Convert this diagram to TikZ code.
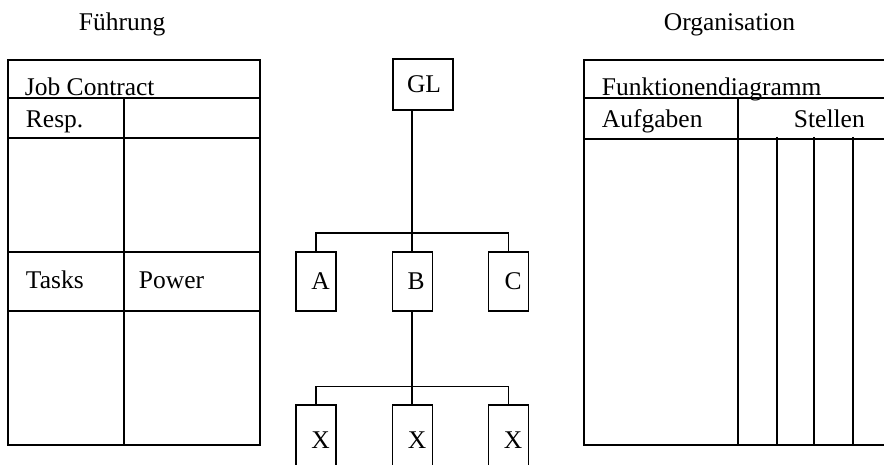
\documentclass[tikz,border=0pt]{standalone}
\usepackage{fontspec}
\setmainfont{Liberation Serif}
\begin{document}
\begin{tikzpicture}[x=1pt,y=-1pt,line width=1.9pt,
  font=\fontsize{25.5}{30}\selectfont,
  heavy/.style={line width=2.8pt},
  lbl/.style={anchor=base west,inner sep=0pt},
  orgbox/.style={draw,line width=1.9pt,minimum width=40pt,minimum height=59pt,inner sep=0pt},
  lowbox/.style={orgbox,minimum height=70pt},
  link/.style={line width=1.9pt}]
\clip (0,0) rectangle (884,465);

% headings
\node[lbl] (fuehrung) at (78,31) {Führung};
\node[lbl] (organisation) at (663,31) {Organisation};

% job contract form
\draw (8,60) rectangle (260,445);
\draw[heavy] (8,98) -- (260,98);
\draw[heavy] (8,138) -- (260,138);
\draw (8,252) -- (260,252);
\draw (8,311) -- (260,311);
\draw (124,98) -- (124,445);
\node[lbl] (job) at (24,96) {Job Contract};
\node[lbl] (resp) at (25,128) {Resp.};
\node[lbl] (tasks) at (25,288) {Tasks};
\node[lbl] (power) at (138,288) {Power};

% function diagram form
\draw (892,60) -- (584,60) -- (584,445) -- (892,445);
\draw (584,98) -- (892,98);
\draw (584,139) -- (892,139);
\draw (738,98) -- (738,445);
\foreach \xx in {777,814,853} \draw (\xx,137) -- (\xx,445);
\node[lbl] (funk) at (601,96) {Funktionendiagramm};
\node[lbl] (aufg) at (601,128) {Aufgaben};
\node[lbl] (stellen) at (793,128) {Stellen};

% organisation chart
\node[orgbox,minimum width=60pt,minimum height=51pt] (GL) at (423,84.5) {\hspace*{2pt}GL};
\node[orgbox] (A) at (316,281.5) {\hspace*{9pt}A};
\node[orgbox] (B) at (412.5,281.5) {\hspace*{7pt}B};
\node[orgbox] (C) at (508.5,281.5) {\hspace*{9pt}C};
\node[lowbox] (X1) at (316,440) {\hspace*{9pt}X};
\node[lowbox] (X2) at (412.5,440) {\hspace*{9pt}X};
\node[lowbox] (X3) at (508.5,440) {\hspace*{9pt}X};

\coordinate (bar1) at (412,233);
\coordinate (bar2) at (412,386.5);
\draw[link] (GL.south -| bar1) -- (bar1);
\draw[link] (A.north) -- (A.north |- bar1) -- (C.north |- bar1) -- (C.north);
\draw[link] (bar1) -- (B.north -| bar1);
\draw[link] (B.south -| bar2) -- (bar2);
\draw[link] (X1.north) -- (X1.north |- bar2) -- (X3.north |- bar2) -- (X3.north);
\draw[link] (bar2) -- (X2.north -| bar2);
\end{tikzpicture}
\end{document}
